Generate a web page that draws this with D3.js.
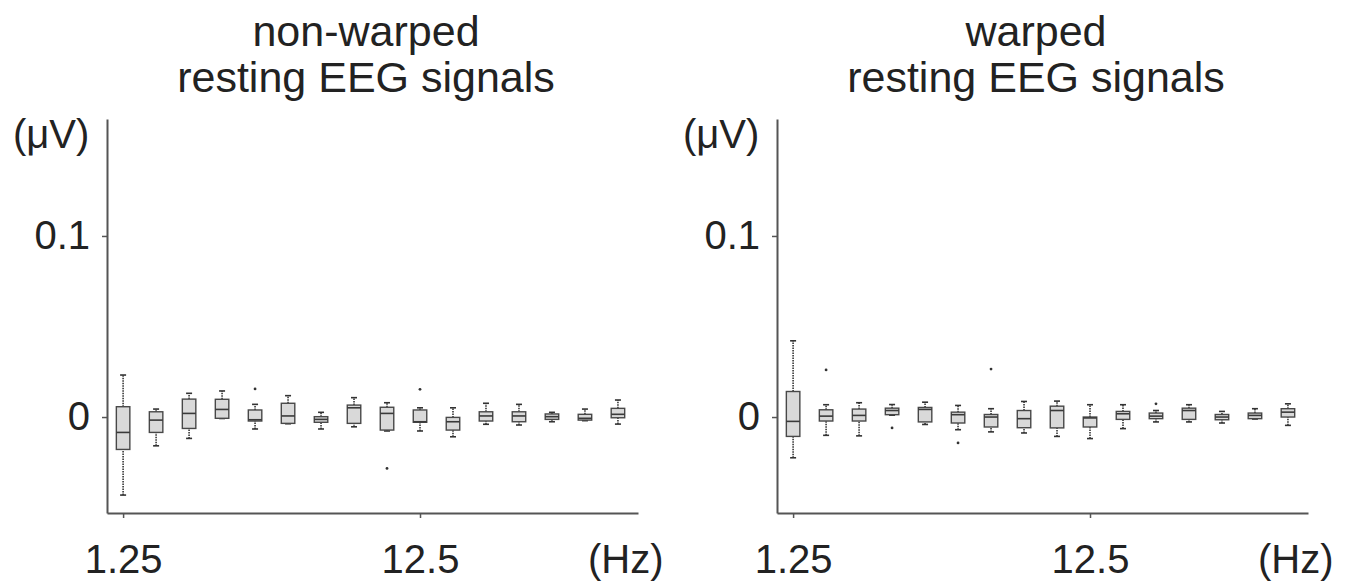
<!DOCTYPE html>
<html lang="en">
  <head>
    <meta charset="UTF-8" />
    <title>resting EEG signals</title>
    <style>
      body { margin: 0; background: #fff; }
      text { font-family: "Liberation Sans", Arial, sans-serif; fill: #222; }
    </style>
  </head>
  <body>
    <svg width="1348" height="582"></svg>
    <script src="https://cdn.jsdelivr.net/npm/d3@7"></script>
    <script>
      // frequency bins (Hz)
      var freqs = [1.25, 2.5, 3.75, 5, 6.25, 7.5, 8.75, 10, 11.25, 12.5, 13.75, 15, 16.25, 17.5, 18.75, 20];
      var xTicks = [1.25, 12.5];
      var yTicks = [0, 0.1];

      // [lower whisker, q1, median, q3, upper whisker] in uV
      var nonWarped = [
        [-0.0431, -0.0179, -0.0085, 0.0057, 0.0232],
        [-0.0159, -0.0085, -0.0017, 0.0029, 0.0044],
        [-0.0118, -0.0063, 0.0020, 0.0099, 0.0131],
        [-0.0008, -0.0007, 0.0042, 0.0098, 0.0144],
        [-0.0066, -0.0022, -0.0015, 0.0039, 0.0070],
        [-0.0037, -0.0035, 0.0006, 0.0076, 0.0118],
        [-0.0066, -0.0029, -0.0013, 0.0002, 0.0026],
        [-0.0054, -0.0035, 0.0051, 0.0066, 0.0107],
        [-0.0077, -0.0072, 0.0020, 0.0054, 0.0079],
        [-0.0077, -0.0029, -0.0026, 0.0039, 0.0051],
        [-0.0109, -0.0072, -0.0026, -0.0002, 0.0051],
        [-0.0040, -0.0022, 0.0006, 0.0029, 0.0076],
        [-0.0044, -0.0026, 0.0006, 0.0029, 0.0070],
        [-0.0026, -0.0013, 0.0002, 0.0017, 0.0026],
        [-0.0020, -0.0017, -0.0007, 0.0015, 0.0044],
        [-0.0039, -0.0004, 0.0015, 0.0048, 0.0094]
      ];
      var nonWarpedOut = [[6.25, 0.0155], [11.25, -0.0284], [12.5, 0.0153]];

      var warped = [
        [-0.0225, -0.0107, -0.0024, 0.0141, 0.0421],
        [-0.0101, -0.0022, 0.0005, 0.0040, 0.0068],
        [-0.0104, -0.0022, 0.0009, 0.0044, 0.0079],
        [0.0010, 0.0013, 0.0036, 0.0049, 0.0069],
        [-0.0041, -0.0027, 0.0042, 0.0053, 0.0082],
        [-0.0070, -0.0033, 0.0013, 0.0027, 0.0064],
        [-0.0082, -0.0055, 0.0000, 0.0014, 0.0046],
        [-0.0088, -0.0059, -0.0009, 0.0036, 0.0086],
        [-0.0107, -0.0060, 0.0036, 0.0060, 0.0088],
        [-0.0119, -0.0055, -0.0005, 0.0000, 0.0068],
        [-0.0064, -0.0013, 0.0018, 0.0031, 0.0068],
        [-0.0027, -0.0009, 0.0005, 0.0022, 0.0036],
        [-0.0027, -0.0013, 0.0036, 0.0049, 0.0068],
        [-0.0033, -0.0015, 0.0000, 0.0014, 0.0031],
        [-0.0011, -0.0009, 0.0009, 0.0022, 0.0046],
        [-0.0046, 0.0000, 0.0027, 0.0046, 0.0073]
      ];
      var warpedOut = [[2.5, 0.0260], [5, -0.0060], [7.5, -0.0143], [8.75, 0.0265], [15, 0.0073]];

      var panels = [
        { title: ["non-warped", "resting EEG signals"], stats: nonWarped, out: nonWarpedOut, left: 107 },
        { title: ["warped", "resting EEG signals"], stats: warped, out: warpedOut, left: 777 }
      ];

      var svg = d3.select("svg");
      var axisColor = "#555";
      var boxW = 13.5, capW = 6;

      var x = d3.scaleLinear().domain([0.64, 20.76]).range([0, 531]);
      var y = d3.scaleLinear().domain([-0.053, 0.1646]).range([513, 119]);

      panels.forEach(function(p) {
        var g = svg.append("g").attr("transform", "translate(" + p.left + ",0)");

        g.selectAll("text.title")
          .data(p.title)
          .enter()
          .append("text")
          .attr("class", "title")
          .attr("x", 259)
          .attr("y", function(d, i) { return 46 + i * 46; })
          .attr("text-anchor", "middle")
          .style("font-size", "43px")
          .text(function(d) { return d; });

        // axes
        var yAxis = g.append("g")
          .call(d3.axisLeft(y).tickValues(yTicks).tickSize(5).tickSizeOuter(0).tickPadding(12)
            .tickFormat(function(d) { return d === 0 ? "0" : d3.format(".1f")(d); }));
        var xAxis = g.append("g")
          .attr("transform", "translate(0,513)")
          .call(d3.axisBottom(x).tickValues(xTicks).tickSize(5).tickSizeOuter(0).tickPadding(27)
            .tickFormat(function(d) { return d; }));
        [yAxis, xAxis].forEach(function(a) {
          a.attr("color", axisColor);
          a.select(".domain").attr("stroke-width", 2);
          a.selectAll(".tick line").attr("stroke-width", 1.5);
          a.selectAll("text").style("font-size", "40px").attr("fill", "#222");
        });

        g.append("text").attr("x", -94).attr("y", 148).style("font-size", "40px").text("(\u03bcV)");
        g.append("text").attr("x", 481).attr("y", 573).style("font-size", "40px").text("(Hz)");

        // boxes
        var boxes = g.selectAll("g.box")
          .data(p.stats)
          .enter()
          .append("g")
          .attr("class", "box")
          .attr("transform", function(d, i) { return "translate(" + x(freqs[i]) + ",0)"; });

        [[0, 1], [3, 4]].forEach(function(k) {
          boxes.append("line")
            .attr("y1", function(d) { return y(d[k[0]]); })
            .attr("y2", function(d) { return y(d[k[1]]); })
            .attr("stroke", "#2a2a2a").attr("stroke-width", 1.5).attr("stroke-dasharray", "1.5,1");
        });
        [0, 4].forEach(function(k) {
          boxes.append("line")
            .attr("x1", -capW / 2).attr("x2", capW / 2)
            .attr("y1", function(d) { return y(d[k]); })
            .attr("y2", function(d) { return y(d[k]); })
            .attr("stroke", "#333").attr("stroke-width", 1.6);
        });
        boxes.append("rect")
          .attr("x", -boxW / 2)
          .attr("width", boxW)
          .attr("y", function(d) { return y(d[3]); })
          .attr("height", function(d) { return Math.max(1, y(d[1]) - y(d[3])); })
          .attr("fill", "#d9d9d9")
          .attr("stroke", "#484848")
          .attr("stroke-width", 1.4);
        boxes.append("line")
          .attr("x1", -boxW / 2).attr("x2", boxW / 2)
          .attr("y1", function(d) { return y(d[2]); })
          .attr("y2", function(d) { return y(d[2]); })
          .attr("stroke", "#3a3a3a").attr("stroke-width", 1.6);

        g.selectAll("circle.out")
          .data(p.out)
          .enter()
          .append("circle")
          .attr("class", "out")
          .attr("cx", function(d) { return x(d[0]); })
          .attr("cy", function(d) { return y(d[1]); })
          .attr("r", 1.4)
          .attr("fill", "#333");
      });
    </script>
  </body>
</html>
